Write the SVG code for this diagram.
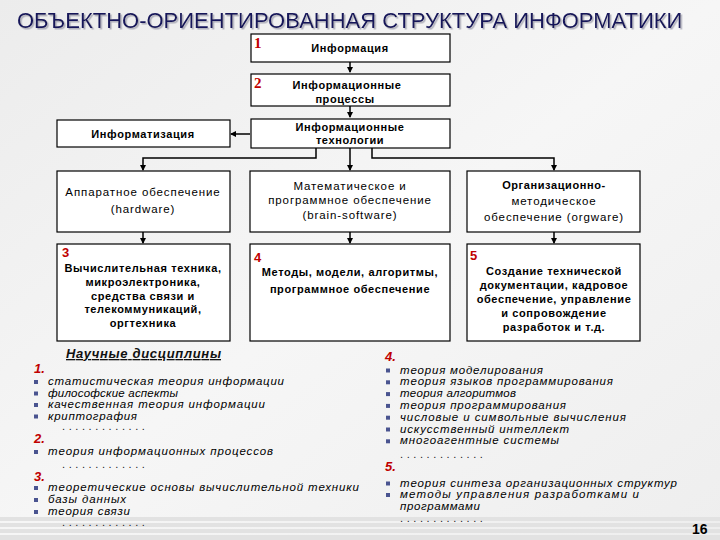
<svg xmlns="http://www.w3.org/2000/svg" width="720" height="540" viewBox="0 0 720 540">
<defs>
<linearGradient id="bg" x1="0" y1="0" x2="1" y2="1">
<stop offset="0" stop-color="#ececec"/>
<stop offset="0.5" stop-color="#f6f6f6"/>
<stop offset="1" stop-color="#eeeeee"/>
</linearGradient>
<filter id="sh" x="-5%" y="-30%" width="110%" height="160%">
<feDropShadow dx="1.5" dy="1.5" stdDeviation="0.6" flood-color="#9a9aaa" flood-opacity="0.8"/>
</filter>
<marker id="ah" markerWidth="6" markerHeight="6" refX="5" refY="3" orient="auto" markerUnits="userSpaceOnUse">
<path d="M0,0 L6,3 L0,6 Z" fill="#000"/>
</marker>
<style>
.box{fill:#fff;stroke:#000;stroke-width:1.2}
.bt{font-family:"Liberation Sans",Arial,sans-serif;font-size:11px;font-weight:bold;fill:#000;text-anchor:middle;letter-spacing:0.6px}
.rt{font-family:"Liberation Sans",Arial,sans-serif;font-size:11.5px;fill:#000;text-anchor:middle;letter-spacing:0.9px}
.num{font-family:"Liberation Sans",Arial,sans-serif;font-size:13px;font-weight:bold;fill:#c00000}
.nums{font-family:"Liberation Serif","Times New Roman",serif;font-size:15px;font-weight:bold;fill:#c00000}
.li{font-family:"Liberation Sans",Arial,sans-serif;font-size:11.5px;font-style:italic;fill:#000}
.ln{font-family:"Liberation Sans",Arial,sans-serif;font-size:13px;font-style:italic;font-weight:bold;fill:#c00000}
.dots{font-family:"Liberation Sans",Arial,sans-serif;font-size:11px;fill:#222;letter-spacing:3.6px}
.bul{fill:#4a5490}
.conn{fill:none;stroke:#000;stroke-width:1.5}
</style>
</defs>
<rect x="0" y="0" width="720" height="540" fill="url(#bg)"/>
<g id="stripes" fill="#e2e2e2">
<rect x="0" y="517" width="720" height="4"/>
<rect x="0" y="523" width="720" height="4"/>
<rect x="0" y="529" width="720" height="4"/>
<rect x="0" y="535" width="720" height="5"/>
</g>

<g id="title">
<text x="17" y="28" font-family="Liberation Sans,Arial,sans-serif" font-size="22" fill="#16165a" filter="url(#sh)">ОБЪЕКТНО-ОРИЕНТИРОВАННАЯ СТРУКТУРА ИНФОРМАТИКИ</text>
</g>

<g id="connectors">
<path class="conn" d="M350,62 V72" marker-end="url(#ah)"/>
<path class="conn" d="M350,106 V117" marker-end="url(#ah)"/>
<path class="conn" d="M250,134 H231" marker-end="url(#ah)"/>
<path class="conn" d="M316,148 V158 H143 V170" marker-end="url(#ah)"/>
<path class="conn" d="M350,148 V170" marker-end="url(#ah)"/>
<path class="conn" d="M372,148 V158 H554 V170" marker-end="url(#ah)"/>
<path class="conn" d="M143,232 V243" marker-end="url(#ah)"/>
<path class="conn" d="M350,232 V243" marker-end="url(#ah)"/>
<path class="conn" d="M554,232 V243" marker-end="url(#ah)"/>
</g>

<g id="n1">
<rect class="box" x="251" y="34" width="199" height="28"/>
<text class="nums" x="254" y="48">1</text>
<text class="bt" x="350" y="52">Информация</text>
</g>
<g id="n2">
<rect class="box" x="251" y="74" width="199" height="32"/>
<text class="nums" x="254" y="88">2</text>
<text class="bt" x="347" y="89">Информационные</text>
<text class="bt" x="345" y="103">процессы</text>
</g>
<g id="n3">
<rect class="box" x="251" y="119" width="199" height="29"/>
<text class="bt" x="350" y="131">Информационные</text>
<text class="bt" x="350" y="144">технологии</text>
</g>
<g id="n4">
<rect class="box" x="57" y="120" width="173" height="27"/>
<text class="bt" x="143" y="138">Информатизация</text>
</g>
<g id="n5">
<rect class="box" x="57" y="171" width="173" height="61"/>
<text class="rt" x="143" y="196">Аппаратное обеспечение</text>
<text class="rt" x="143" y="213">(hardware)</text>
</g>
<g id="n6">
<rect class="box" x="250" y="171" width="200" height="61"/>
<text class="rt" x="350" y="190">Математическое и</text>
<text class="rt" x="350" y="204">программное обеспечение</text>
<text class="rt" x="350" y="219">(brain-software)</text>
</g>
<g id="n7">
<rect class="box" x="467" y="171" width="173" height="61"/>
<text class="bt" x="554" y="189">Организационно-</text>
<text class="rt" x="554" y="205">методическое</text>
<text class="rt" x="554" y="221">обеспечение (orgware)</text>
</g>
<g id="n8">
<rect class="box" x="57" y="244" width="173" height="97"/>
<text class="num" x="62" y="257">3</text>
<text class="bt" x="143" y="272">Вычислительная техника,</text>
<text class="bt" x="143" y="286">микроэлектроника,</text>
<text class="bt" x="143" y="300">средства связи и</text>
<text class="bt" x="143" y="313">телекоммуникаций,</text>
<text class="bt" x="143" y="327">оргтехника</text>
</g>
<g id="n9">
<rect class="box" x="250" y="244" width="200" height="97"/>
<text class="num" x="254" y="262">4</text>
<text class="bt" x="350" y="276">Методы, модели, алгоритмы,</text>
<text class="bt" x="350" y="293">программное обеспечение</text>
</g>
<g id="n10">
<rect class="box" x="467" y="244" width="173" height="97"/>
<text class="num" x="470" y="260">5</text>
<text class="bt" x="554" y="275">Создание технической</text>
<text class="bt" x="554" y="289">документации, кадровое</text>
<text class="bt" x="554" y="303">обеспечение, управление</text>
<text class="bt" x="554" y="317">и сопровождение</text>
<text class="bt" x="554" y="331">разработок и т.д.</text>
</g>

<g id="disciplines">
<text x="66" y="358" font-family="Liberation Sans,Arial,sans-serif" font-size="13" font-style="italic" font-weight="bold" fill="#111" text-decoration="underline" textLength="155" lengthAdjust="spacing">Научные дисциплины</text>
<text class="ln" x="34" y="373">1.</text>
<rect class="bul" x="34" y="380" width="4" height="4"/>
<text class="li" x="48" y="385" textLength="236" lengthAdjust="spacing">статистическая теория информации</text>
<rect class="bul" x="34" y="391.5" width="4" height="4"/>
<text class="li" x="48" y="396.5" textLength="130" lengthAdjust="spacing">философские аспекты</text>
<rect class="bul" x="34" y="403" width="4" height="4"/>
<text class="li" x="48" y="408" textLength="217" lengthAdjust="spacing">качественная теория информации</text>
<rect class="bul" x="34" y="414.5" width="4" height="4"/>
<text class="li" x="48" y="419.5" textLength="89" lengthAdjust="spacing">криптография</text>
<text class="dots" x="62" y="430">.............</text>
<text class="ln" x="34" y="443">2.</text>
<rect class="bul" x="34" y="450" width="4" height="4"/>
<text class="li" x="48" y="455" textLength="225" lengthAdjust="spacing">теория информационных процессов</text>
<text class="dots" x="62" y="468">.............</text>
<text class="ln" x="34" y="481">3.</text>
<rect class="bul" x="34" y="486" width="4" height="4"/>
<text class="li" x="48" y="491" textLength="311" lengthAdjust="spacing">теоретические основы вычислительной техники</text>
<rect class="bul" x="34" y="498" width="4" height="4"/>
<text class="li" x="48" y="503" textLength="78" lengthAdjust="spacing">базы данных</text>
<rect class="bul" x="34" y="510" width="4" height="4"/>
<text class="li" x="48" y="515" textLength="82" lengthAdjust="spacing">теория связи</text>
<text class="dots" x="62" y="526">.............</text>

<text class="ln" x="385" y="361">4.</text>
<rect class="bul" x="386" y="368.5" width="4" height="4"/>
<text class="li" x="400" y="373.5" textLength="143" lengthAdjust="spacing">теория моделирования</text>
<rect class="bul" x="386" y="380.3" width="4" height="4"/>
<text class="li" x="400" y="385.3" textLength="213" lengthAdjust="spacing">теория языков программирования</text>
<rect class="bul" x="386" y="392.1" width="4" height="4"/>
<text class="li" x="400" y="397.1" textLength="116" lengthAdjust="spacing">теория алгоритмов</text>
<rect class="bul" x="386" y="403.9" width="4" height="4"/>
<text class="li" x="400" y="408.9" textLength="166" lengthAdjust="spacing">теория программирования</text>
<rect class="bul" x="386" y="415.7" width="4" height="4"/>
<text class="li" x="400" y="420.7" textLength="226" lengthAdjust="spacing">числовые и символьные вычисления</text>
<rect class="bul" x="386" y="427.5" width="4" height="4"/>
<text class="li" x="400" y="432.5" textLength="169" lengthAdjust="spacing">искусственный интеллект</text>
<rect class="bul" x="386" y="439.3" width="4" height="4"/>
<text class="li" x="400" y="444.3" textLength="159" lengthAdjust="spacing">многоагентные системы</text>
<text class="dots" x="400" y="458">.............</text>
<text class="ln" x="385" y="471">5.</text>
<rect class="bul" x="386" y="481.5" width="4" height="4"/>
<text class="li" x="400" y="486.5" textLength="277" lengthAdjust="spacing">теория синтеза организационных структур</text>
<rect class="bul" x="386" y="493" width="4" height="4"/>
<text class="li" x="400" y="498" textLength="239" lengthAdjust="spacing">методы управления разработками и</text>
<text class="li" x="400" y="510" textLength="80" lengthAdjust="spacing">программами</text>
<text class="dots" x="400" y="522">.............</text>
</g>
<text x="692" y="534" font-family="Liberation Sans,Arial,sans-serif" font-size="14" font-weight="bold" fill="#000">16</text>
</svg>
